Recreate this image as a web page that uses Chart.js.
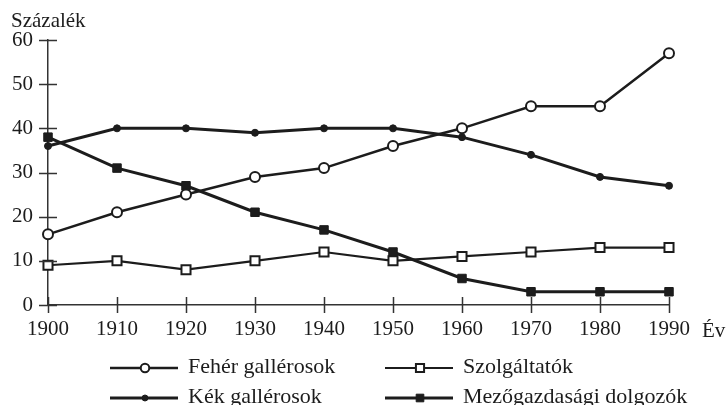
<!DOCTYPE html>
<html>
<head>
<meta charset="utf-8">
<script src="https://cdn.jsdelivr.net/npm/chart.js@4.4.0/dist/chart.umd.min.js"></script>
<style>
  html, body { margin: 0; padding: 0; background: #fff; }
  #wrap { position: relative; width: 727px; height: 405px; }
</style>
</head>
<body>
<div id="wrap"><canvas id="chart" width="727" height="405"></canvas></div>
<script>
// data
const years = ['1900', '1910', '1920', '1930', '1940', '1950', '1960', '1970', '1980', '1990']
const feherGallerosok = [16, 21, 25, 29, 31, 36, 40, 45, 45, 57]
const kekGallerosok = [36, 40, 40, 39, 40, 40, 38, 34, 29, 27]
const szolgaltatok = [9, 10, 8, 10, 12, 10, 11, 12, 13, 13]
const mezogazdasagi = [38, 31, 27, 21, 17, 12, 6, 3, 3, 3]
const seriesNames = ['Fehér gallérosok', 'Kék gallérosok', 'Szolgáltatók', 'Mezőgazdasági dolgozók']
const yMin = 0
const yMax = 60
const yStep = 10
const yTitle = 'Százalék'
const xTitle = 'Év'

const ink = '#1c1c1c'
const fontFam = '"Liberation Serif", "Times New Roman", serif'

// series look: [pointStyle, filled, radius, lineWidth]
const looks = [
  { style: 'circle', fill: '#fff', r: 5, bw: 2, lw: 2.5 },
  { style: 'circle', fill: ink, r: 3.5, bw: 1, lw: 3 },
  { style: 'rect', fill: '#fff', r: 6.4, bw: 2, lw: 2.2 },
  { style: 'rect', fill: ink, r: 6, bw: 1, lw: 3 },
]
const seriesData = [feherGallerosok, kekGallerosok, szolgaltatok, mezogazdasagi]

// legend slots: [col x of line start, row y]
const legendSlots = [
  [110, 368], [110, 398], [385, 368], [385, 398],
]

const crossTicks = {
  id: 'crossTicks',
  afterDraw(chart) {
    const ctx = chart.ctx
    const xs = chart.scales.x
    const ys = chart.scales.y
    const area = chart.chartArea
    ctx.save()
    ctx.strokeStyle = '#333'
    ctx.lineWidth = 1.5
    ctx.beginPath()
    ys.ticks.forEach((t) => {
      const py = Math.round(ys.getPixelForValue(t.value)) + 0.5
      ctx.moveTo(area.left - 9, py)
      ctx.lineTo(area.left + 9, py)
    })
    xs.ticks.forEach((t, i) => {
      const px = Math.round(xs.getPixelForTick(i)) + 0.5
      ctx.moveTo(px, area.bottom - 8)
      ctx.lineTo(px, area.bottom + 8)
    })
    ctx.stroke()

    // titles
    ctx.fillStyle = ink
    ctx.font = '21px ' + fontFam
    ctx.textBaseline = 'alphabetic'
    ctx.textAlign = 'left'
    ctx.fillText(yTitle, 11, 27)
    ctx.fillText(xTitle, 702, 337)

    // legend
    ctx.font = '22px ' + fontFam
    seriesNames.forEach((name, i) => {
      const [lx, ly] = legendSlots[i]
      const lk = looks[i]
      ctx.strokeStyle = ink
      ctx.lineWidth = lk.lw
      ctx.beginPath()
      ctx.moveTo(lx, ly)
      ctx.lineTo(lx + 68, ly)
      ctx.stroke()
      const cx = lx + 35
      ctx.fillStyle = lk.fill
      ctx.lineWidth = lk.bw
      ctx.beginPath()
      if (lk.style === 'circle') {
        ctx.arc(cx, ly, lk.r * 0.85, 0, Math.PI * 2)
      } else {
        const s = lk.r * Math.SQRT1_2 * 0.9
        ctx.rect(cx - s, ly - s, 2 * s, 2 * s)
      }
      ctx.fill()
      ctx.stroke()
      ctx.fillStyle = ink
      ctx.fillText(name, lx + 78, ly + 5)
    })
    ctx.restore()
  },
}

const datasets = seriesNames.map((name, i) => ({
  label: name,
  data: seriesData[i],
  borderColor: ink,
  borderWidth: looks[i].lw,
  pointStyle: looks[i].style,
  pointRadius: looks[i].r,
  pointBorderWidth: looks[i].bw,
  pointBackgroundColor: looks[i].fill,
  pointBorderColor: ink,
  tension: 0,
  fill: false,
}))

new Chart(document.getElementById('chart'), {
  type: 'line',
  data: { labels: years, datasets: datasets },
  options: {
    responsive: false,
    animation: false,
    devicePixelRatio: 1,
    layout: { padding: { left: 0, right: 58, top: 40, bottom: 65 } },
    plugins: {
      legend: { display: false },
      tooltip: { enabled: false },
    },
    scales: {
      x: {
        type: 'category',
        offset: false,
        grid: { display: false, drawTicks: false },
        border: { display: true, color: '#333', width: 1.5 },
        ticks: {
          color: ink,
          font: { family: fontFam, size: 21 },
          padding: 12,
          maxRotation: 0,
          autoSkip: false,
        },
        afterFit(scale) { scale.height = 35 },
      },
      y: {
        min: yMin,
        max: yMax,
        grid: { display: false, drawTicks: false },
        border: { display: true, color: '#333', width: 1.5 },
        ticks: {
          stepSize: yStep,
          color: ink,
          font: { family: fontFam, size: 21 },
          padding: 15,
        },
        afterFit(scale) { scale.width = 48 },
      },
    },
  },
  plugins: [crossTicks],
})
</script>
</body>
</html>
